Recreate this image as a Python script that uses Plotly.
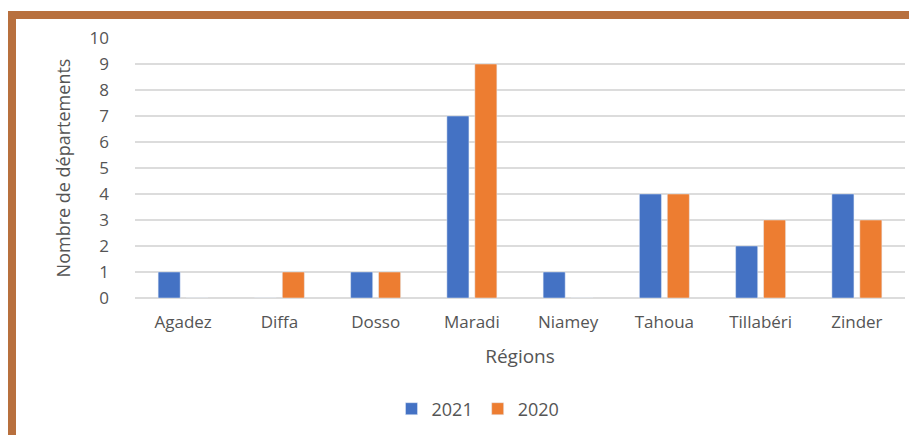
import plotly.graph_objects as go

regions = ["Agadez", "Diffa", "Dosso", "Maradi", "Niamey", "Tahoua", "Tillabéri", "Zinder"]
values_2021 = [1, 0, 1, 7, 1, 4, 2, 4]
values_2020 = [0, 1, 1, 9, 0, 4, 3, 3]
y_ticks = list(range(0, 11))

W, H = 909, 435
ml, mr, mt, mb = 135, 4, 38, 137
pw = W - ml - mr
ph = H - mt - mb


def px(x):
    return (x - ml) / pw


def py(y):
    return (H - mb - y) / ph


txt = "#555555"
font = "Open Sans"

fig = go.Figure()
fig.add_trace(go.Bar(name="2021", x=regions, y=values_2021, marker_color="#4472C4"))
fig.add_trace(go.Bar(name="2020", x=regions, y=values_2020, marker_color="#ED7D31"))

border = "#B8703E"
fig.update_layout(
    width=W, height=H,
    margin=dict(l=ml, r=mr, t=mt, b=mb, autoexpand=False),
    paper_bgcolor="white", plot_bgcolor="white",
    barmode="group", bargap=0.42, bargroupgap=0.21,
    font=dict(family=font, color=txt, size=17),
    showlegend=True,
    legend=dict(orientation="h", x=px(478), xanchor="center", y=py(409), yanchor="middle",
                font=dict(size=18, color=txt), tracegroupgap=0,
                bgcolor="rgba(0,0,0,0)"),
    xaxis=dict(
        title=dict(text="Régions", font=dict(size=19, color=txt), standoff=17),
        tickfont=dict(size=17, color=txt), showgrid=False, showline=False,
        ticks="", ticklabelstandoff=12,
    ),
    yaxis=dict(
        range=[0, 10], tickvals=y_ticks, tickfont=dict(size=17, color=txt),
        showgrid=True, gridcolor="#DCDCDC", gridwidth=1.5,
        zeroline=True, zerolinecolor="#DCDCDC", zerolinewidth=1.5,
        showline=False, ticks="", ticklabelstandoff=25,
        title=dict(text="Nombre de départements", font=dict(size=18, color=txt), standoff=14),
    ),
    shapes=[
        dict(type="rect", xref="paper", yref="paper", x0=px(8), x1=px(915), y0=py(19), y1=py(11),
             fillcolor=border, line=dict(width=0), layer="above"),
        dict(type="rect", xref="paper", yref="paper", x0=px(8), x1=px(16), y0=py(440), y1=py(11),
             fillcolor=border, line=dict(width=0), layer="above"),
    ],
)

fig.write_html("out.html", config={"displayModeBar": False},
               post_script="document.body.style.margin='0';")
